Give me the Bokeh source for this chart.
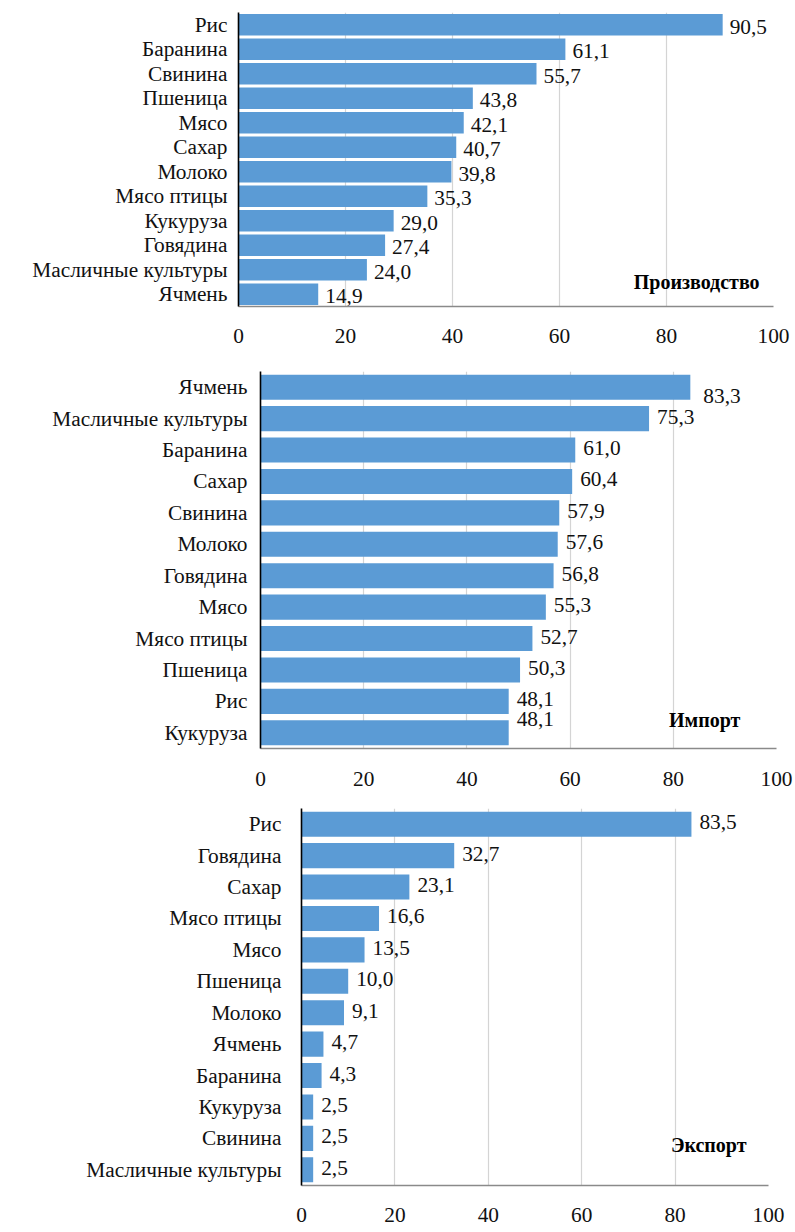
from bokeh.plotting import figure
from bokeh.models import Range1d, FactorRange, FixedTicker, Label, ColumnDataSource
from bokeh.core.properties import value
from bokeh.embed import file_html
from bokeh.resources import INLINE

# ---- data ----
prod_cats = ["Рис", "Баранина", "Свинина", "Пшеница", "Мясо", "Сахар", "Молоко",
             "Мясо птицы", "Кукуруза", "Говядина", "Масличные культуры", "Ячмень"]
prod_vals = [90.5, 61.1, 55.7, 43.8, 42.1, 40.7, 39.8, 35.3, 29.0, 27.4, 24.0, 14.9]

imp_cats = ["Ячмень", "Масличные культуры", "Баранина", "Сахар", "Свинина", "Молоко",
            "Говядина", "Мясо", "Мясо птицы", "Пшеница", "Рис", "Кукуруза"]
imp_vals = [83.3, 75.3, 61.0, 60.4, 57.9, 57.6, 56.8, 55.3, 52.7, 50.3, 48.1, 48.1]

exp_cats = ["Рис", "Говядина", "Сахар", "Мясо птицы", "Мясо", "Пшеница", "Молоко",
            "Ячмень", "Баранина", "Кукуруза", "Свинина", "Масличные культуры"]
exp_vals = [83.5, 32.7, 23.1, 16.6, 13.5, 10.0, 9.1, 4.7, 4.3, 2.5, 2.5, 2.5]

x_ticks = [0, 20, 40, 60, 80, 100]
panel_titles = ["Производство", "Импорт", "Экспорт"]

FONT = "Liberation Serif"
FSIZE = "16pt"
TXT = "#111111"
BAR = "#5B9BD5"


def make_chart(cats, vals, title, frame_w, frame_h, b_left, b_right, b_top, b_bottom,
               bar_h, ylab_standoff, xlab_standoff, title_x, title_y, dx, dy):
    p = figure(y_range=FactorRange(factors=list(reversed(cats))),
               x_range=Range1d(0, 100),
               frame_width=frame_w, frame_height=frame_h,
               min_border_left=b_left, min_border_right=b_right,
               min_border_top=b_top, min_border_bottom=b_bottom,
               output_backend="svg", toolbar_location=None)
    labels = [("%.1f" % v).replace(".", ",") for v in vals]
    src = ColumnDataSource(dict(cat=cats, val=vals, lab=labels, dx=dx, dy=dy))
    p.hbar(y="cat", right="val", left=0, height=bar_h, source=src,
           fill_color=BAR, line_color=None)
    p.text(x="val", y="cat", text="lab", source=src, x_offset="dx", y_offset="dy",
           text_font=value(FONT), text_font_size=FSIZE, text_color=TXT,
           text_align="left", text_baseline="middle")
    p.add_layout(Label(x=title_x, y=title_y, text=title, text_font=FONT,
                       text_font_style="bold", text_font_size="15pt",
                       text_color="black",
                       text_align="right", text_baseline="middle"))

    p.outline_line_color = None
    p.ygrid.grid_line_color = None
    p.xgrid.grid_line_color = "#d4d4d4"
    p.xgrid.grid_line_width = 1.2

    p.xaxis.ticker = FixedTicker(ticks=x_ticks)
    p.xaxis.axis_line_color = "#8a8a8a"
    p.xaxis.axis_line_width = 1.6
    p.xaxis.major_tick_line_color = None
    p.xaxis.minor_tick_line_color = None
    p.xaxis.major_tick_out = 0
    p.xaxis.major_label_standoff = xlab_standoff
    p.xaxis.major_label_text_font = FONT
    p.xaxis.major_label_text_font_size = FSIZE
    p.xaxis.major_label_text_color = TXT

    p.yaxis.axis_line_color = "black"
    p.yaxis.axis_line_width = 1.6
    p.yaxis.major_tick_line_color = None
    p.yaxis.minor_tick_line_color = None
    p.yaxis.major_tick_out = 0
    p.yaxis.major_label_standoff = ylab_standoff
    p.yaxis.major_label_text_font = FONT
    p.yaxis.major_label_text_font_size = FSIZE
    p.yaxis.major_label_text_color = TXT
    return p


n = 12
p1 = make_chart(prod_cats, prod_vals, panel_titles[0], 535, 294, 238, 22, 12, 54,
                0.88, 11, 22, 97.4, 1.0, [7] * n, [2] * n)
imp_dx = [13] + [8] * (n - 1)
imp_dy = [9] + [-2] * (n - 2) + [-14]
p2 = make_chart(imp_cats, imp_vals, panel_titles[1], 516, 377, 260, 19, 11, 48,
                0.8, 13, 23, 93.0, 0.92, imp_dx, imp_dy)
p3 = make_chart(exp_cats, exp_vals, panel_titles[2], 467, 377, 301, 27, 12, 47,
                0.8, 20, 22, 95.3, 1.3, [8] * n, [-2] * n)

open("out.html", "w").write(file_html([p1, p2, p3], INLINE))
